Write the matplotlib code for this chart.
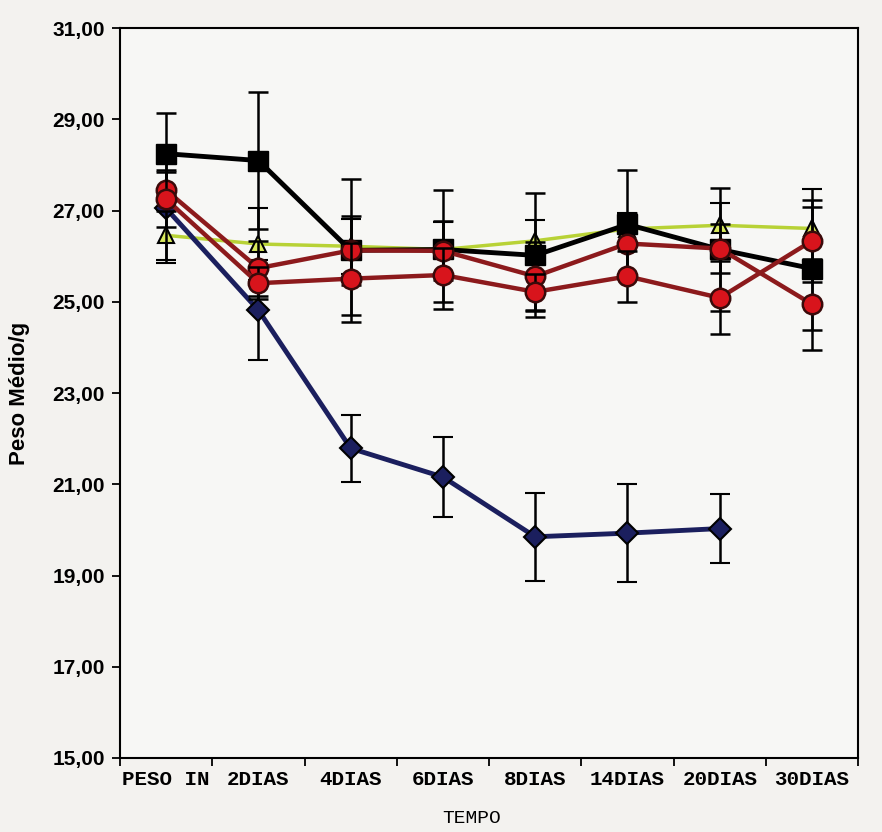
import numpy as np
import matplotlib
matplotlib.use('Agg')
import matplotlib.pyplot as plt
from matplotlib.ticker import FuncFormatter, FixedLocator

# Categories on the x axis
tempo = ['PESO IN', '2DIAS', '4DIAS', '6DIAS', '8DIAS', '14DIAS', '20DIAS', '30DIAS']

# Mean weight per group (g) and error values
tri_vals = [26.46, 26.27, 26.22, 26.15, 26.34, 26.60, 26.68, 26.61]
tri_err = [0.55, 0.80, 0.60, 0.60, 0.45, 0.34, 0.48, 0.86]

dia_vals = [27.05, 24.82, 21.79, 21.16, 19.85, 19.93, 20.03, np.nan]
dia_err = [1.20, 1.10, 0.74, 0.87, 0.97, 1.07, 0.75, np.nan]

sq_vals = [28.25, 28.10, 26.13, 26.15, 26.02, 26.70, 26.15, 25.73]
sq_err = [0.90, 1.50, 1.57, 1.30, 1.36, 1.20, 1.34, 1.35]

red1_vals = [27.45, 25.74, 26.13, 26.12, 25.56, 26.28, 26.17, 24.95]
red1_err = [0.45, 0.60, 0.76, 0.65, 0.75, 0.66, 0.53, 1.00]

red2_vals = [27.25, 25.41, 25.51, 25.59, 25.22, 25.56, 25.09, 26.34]
red2_err = [0.60, 0.35, 0.79, 0.60, 0.40, 0.56, 0.80, 0.90]

x = np.arange(len(tempo))

fig = plt.figure(figsize=(8.82, 8.32), dpi=100, facecolor='#f3f2ef')
ax = fig.add_axes([0.136, 0.089, 0.837, 0.877], facecolor='#f7f7f5')

eb = dict(ecolor='black', elinewidth=1.8, capsize=7, capthick=1.8)

# Series drawn in back-to-front order
ax.errorbar(x, tri_vals, yerr=tri_err, color='#b8d236', lw=2.5, marker='^', ms=12,
            mfc='#d9ea5c', mec='black', mew=1.5, **eb, zorder=2)
ax.errorbar(x, dia_vals, yerr=dia_err, color='#1b1f5e', lw=3.5, marker='D', ms=11,
            mfc='#1b1f5e', mec='black', mew=1.5, **eb, zorder=3)
ax.errorbar(x, sq_vals, yerr=sq_err, color='black', lw=3.5, marker='s', ms=15,
            mfc='black', mec='black', **eb, zorder=4)
ax.errorbar(x, red1_vals, yerr=red1_err, color='#8c1a1c', lw=3.2, marker='o', ms=14,
            mfc='#d8141c', mec='#3a0a0a', mew=1.8, **eb, zorder=5)
ax.errorbar(x, red2_vals, yerr=red2_err, color='#8c1a1c', lw=3.2, marker='o', ms=14,
            mfc='#d8141c', mec='#3a0a0a', mew=1.8, **eb, zorder=6)

# Axes limits and ticks
ax.set_xlim(-0.5, len(tempo) - 0.5)
ax.set_ylim(15, 31)
ax.set_yticks(np.arange(15, 31.1, 2))
ax.yaxis.set_major_formatter(FuncFormatter(lambda v, _: f'{v:.2f}'.replace('.', ',')))
for lab in ax.get_yticklabels():
    lab.set_fontfamily('Liberation Sans')
    lab.set_fontweight('bold')
    lab.set_fontsize(15)

ax.set_xticks(x)
ax.set_xticklabels(tempo, fontfamily='Liberation Mono', fontsize=15, fontweight='bold')
ax.tick_params(axis='x', which='major', length=0, pad=9)
ax.xaxis.set_minor_locator(FixedLocator(np.arange(-0.5, len(tempo), 1)))
ax.tick_params(axis='x', which='minor', length=6, width=1.3, direction='out')
ax.tick_params(axis='y', length=6, width=1.3, direction='out', pad=5)

for s in ax.spines.values():
    s.set_linewidth(1.5)
    s.set_color('black')

ax.set_ylabel('Peso Médio/g', fontfamily='Liberation Sans', fontweight='bold', fontsize=16)
ax.yaxis.set_label_coords(-0.122, 0.5)
ax.set_xlabel('TEMPO', fontfamily='Liberation Mono', fontsize=14)
ax.xaxis.set_label_coords(0.477, -0.072)

plt.savefig('out.png', dpi=100, facecolor=fig.get_facecolor())
